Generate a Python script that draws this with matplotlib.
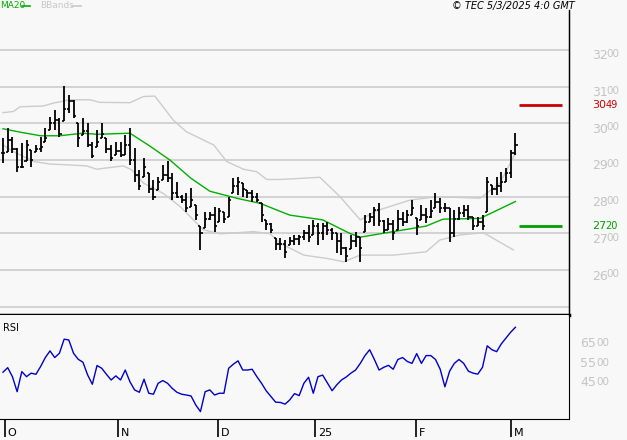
import matplotlib
matplotlib.use("Agg")
import matplotlib.pyplot as plt

highs = [2959,2986,2964,2932,2946,2955,2927,2941,2964,2986,3018,3036,3014,3102,3077,3064,3000,3014,3000,2950,
         2982,3000,2959,2941,2950,2950,2968,2986,2932,2873,2905,2864,2846,2855,2887,2896,2864,2841,2805,2809,
         2823,2778,2719,2759,2759,2773,2768,2759,2800,2850,2855,2837,2818,2818,2809,2782,2737,2728,2687,2687,
         2682,2691,2696,2696,2709,2723,2737,2728,2728,2732,2714,2700,2700,2664,2696,2705,2691,2750,2755,2773,
         2782,2737,2741,2737,2764,2759,2764,2791,2741,2777,2768,2791,2811,2796,2782,2768,2764,2773,2777,2777,
         2746,2746,2750,2855,2832,2855,2868,2877,2927,2973]
lows = [2891,2923,2918,2868,2877,2896,2882,2923,2923,2950,2982,2982,2964,3005,3027,3014,2936,2968,2936,2905,
        2936,2959,2918,2896,2914,2909,2914,2887,2841,2818,2855,2809,2791,2818,2846,2841,2791,2796,2782,2759,
        2773,2737,2655,2714,2737,2705,2732,2728,2746,2809,2805,2800,2796,2787,2787,2732,2710,2700,2655,2655,
        2632,2669,2669,2669,2682,2678,2696,2669,2682,2696,2682,2646,2641,2623,2659,2664,2623,2705,2732,2719,
        2719,2700,2709,2682,2709,2719,2728,2750,2696,2737,2728,2741,2768,2755,2759,2678,2691,2737,2746,2737,
        2709,2719,2709,2759,2805,2805,2814,2841,2850,2914]
closes = [2920,2955,2930,2880,2880,2940,2900,2930,2935,2960,3000,3010,2970,3040,3060,3020,2960,2980,2940,2910,
          2950,2970,2930,2905,2925,2915,2940,2900,2860,2830,2880,2820,2800,2840,2860,2850,2810,2800,2790,2770,
          2790,2750,2700,2740,2750,2720,2760,2740,2790,2830,2840,2820,2810,2800,2790,2750,2725,2710,2670,2670,
          2650,2680,2685,2690,2700,2690,2720,2700,2720,2710,2700,2680,2660,2640,2680,2690,2660,2730,2745,2765,
          2735,2710,2725,2700,2740,2730,2750,2770,2720,2750,2745,2760,2785,2770,2770,2700,2740,2755,2765,2745,
          2720,2730,2720,2840,2820,2830,2840,2865,2920,2940]

ma_bars = [0,4,8,12,17,20,27,31,35.5,40,44,50,54.7,59,61,68,73.8,76,83,90,93.6,101.5,109]
ma_vals = [2985,2975,2966,2966,2973,2970,2973,2940,2900,2850,2815,2795,2782,2760,2750,2737,2700,2690,2705,2720,2739,2741,2787]
up_bars = [0,2.2,3.6,8.6,10.7,14.3,18.5,20.6,27,29.9,32.3,36.2,39,44.8,47.6,51.1,54,56.1,59,67.4,71.7,76,79.5,86.6,92.3,101.5,105.7,109]
up_vals = [3029,3032,3045,3047,3055,3064,3064,3057,3056,3073,3074,3009,2977,2941,2896,2875,2868,2847,2847,2853,2800,2737,2762,2791,2800,2796,2837,2918]
lo_bars = [0,2.2,6.5,10,13.5,17.8,19.9,25.6,27.4,29.9,34.1,37.7,40.5,42.6,46.2,53.3,56.8,59,64,68.9,72.5,76,83,90,92.9,97.2,102.2,108.6]
lo_vals = [2941,2923,2896,2889,2887,2884,2875,2884,2873,2837,2809,2773,2737,2710,2699,2705,2699,2673,2641,2632,2623,2641,2641,2650,2682,2696,2702,2655]

rsi = [49.5,51.8,47.2,39.5,49.8,47.2,49,48.4,52.4,57,60.4,57,59.2,66.4,66,59.2,56.1,54.6,48.1,43.3,
       52.9,51.5,48.4,45.5,47.6,45.5,50.6,44.6,40.4,39.2,45.9,38.7,38.2,43.8,45.2,43.8,41.2,39.2,38.2,37.8,
       37.3,32.7,29.3,39.5,40.4,37.8,38.7,38.7,51.5,53.6,55.3,50.6,50.6,51,47.2,43.8,39.9,37,34.1,34,
       33.1,35.3,38.5,37.5,43.8,46.9,38.7,47.2,48,44,40,43,45.5,47,49,50.6,54,58,61,56,
       50.6,52,53,51,56,57,55,54,59,54,58,58,56,51,42,50,54,56,54,50,
       49,48.5,52,63,61,60,64,67,70,72.5]

price_ticks = [2600, 2700, 2800, 2900, 3000, 3100, 3200]
rsi_ticks = [45, 55, 65]
month_pos = [0.4, 24.5, 45.7, 66.4, 87.9, 108.1]
month_labels = ["O", "N", "D", "25", "F", "M"]
last_price = 3049
ma_last = 2720

BG = "#f8f8f8"
GRID = "#cccccc"
LAB = "#c4c4c4"
W, H = 627, 440
fig = plt.figure(figsize=(6.27, 4.4), dpi=100, facecolor=BG)
ax = fig.add_axes([0, (H-315)/H, 569/W, 303/H], facecolor=BG)
ax2 = fig.add_axes([0, (H-419)/H, 569/W, 104/H], facecolor=BG)
XL = (-0.64, 120.4)
for a in (ax, ax2):
    a.set_xlim(*XL)
    a.set_xticks([]); a.set_yticks([])
    for s in ("left", "top"):
        a.spines[s].set_visible(False)
    a.spines["right"].set_color("black")
ax.spines["bottom"].set_linewidth(2.5)
ax.set_ylim(2478, 3303)
ax2.set_ylim(25.5, 78.8)

for t in [2500] + price_ticks:
    ax.axhline(t, color=GRID, lw=1.2, zorder=0)

ax.plot(up_bars, up_vals, color=GRID, lw=1)
ax.plot(lo_bars, lo_vals, color=GRID, lw=1)
ax.plot(ma_bars, ma_vals, color="#00b000", lw=1)

for i, (h, l, c) in enumerate(zip(highs, lows, closes)):
    ax.vlines(i, l, h, color="black", lw=1.3)
    o = closes[i-1] if i > 0 else c
    ax.hlines(c, i, i+0.45, color="black", lw=1.2)
    ax.hlines(min(max(o, l), h), i-0.45, i, color="black", lw=1.2)

ax.hlines(last_price, 109.8, 118.9, color="#cc0000", lw=2)
ax.hlines(ma_last, 109.8, 118.9, color="#00a000", lw=2)

ax2.plot(range(len(rsi)), rsi, color="#0000cc", lw=1)

ty = ax.get_yaxis_transform()
for t in price_ticks:
    s = str(t)
    ax.text(1.04, t - 16, s[:2], transform=ty, color=LAB, fontsize=9, va="center", ha="left")
    ax.text(1.066, t - 11, s[2:], transform=ty, color=LAB, fontsize=7.5, va="center", ha="left")
ty2 = ax2.get_yaxis_transform()
for t in rsi_ticks:
    ax2.text(1.02, t - 1, str(t), transform=ty2, color=LAB, fontsize=9, va="center", ha="left")
    ax2.text(1.048, t - 0.6, "00", transform=ty2, color=LAB, fontsize=7.5, va="center", ha="left")
for val, col in ((last_price, "#cc0000"), (ma_last, "#00a000")):
    s = str(val)
    ax.text(1.04, val, s[:2], transform=ty, color=col, fontsize=8, va="center", ha="left")
    ax.text(1.064, val, s[2:], transform=ty, color=col, fontsize=7, va="center", ha="left")

fig.add_artist(plt.Line2D([569/W, 569/W], [1-10/H, 1-315/H], color="black", lw=1))
fig.text(0, 1-6/H, "MA20", color="#00b000", fontsize=6.5, va="center", ha="left")
fig.add_artist(plt.Line2D([22/W, 30/W], [1-6/H, 1-6/H], color="#00b000", lw=1.2))
fig.text(40/W, 1-6/H, "BBands", color="#c8c8c8", fontsize=6.5, va="center", ha="left")
fig.add_artist(plt.Line2D([72/W, 81/W], [1-6/H, 1-6/H], color="#c8c8c8", lw=1.2))
fig.text(575/W, 1-6/H, "© TEC 5/3/2025 4:0 GMT", color="black", fontsize=7, style="italic", va="center", ha="right")
ax2.text(3/569, 1-13/104, "RSI", transform=ax2.transAxes, fontsize=7, va="center", ha="left")

for p, lab in zip(month_pos, month_labels):
    ax2.vlines(p, -0.17, 0, transform=ax2.get_xaxis_transform(), color="black", lw=1.2, clip_on=False)
    ax2.text(p + 0.6, -0.13, lab, transform=ax2.get_xaxis_transform(), fontsize=8, va="center", ha="left", clip_on=False)

fig.savefig("out.png", dpi=100, facecolor=BG)
